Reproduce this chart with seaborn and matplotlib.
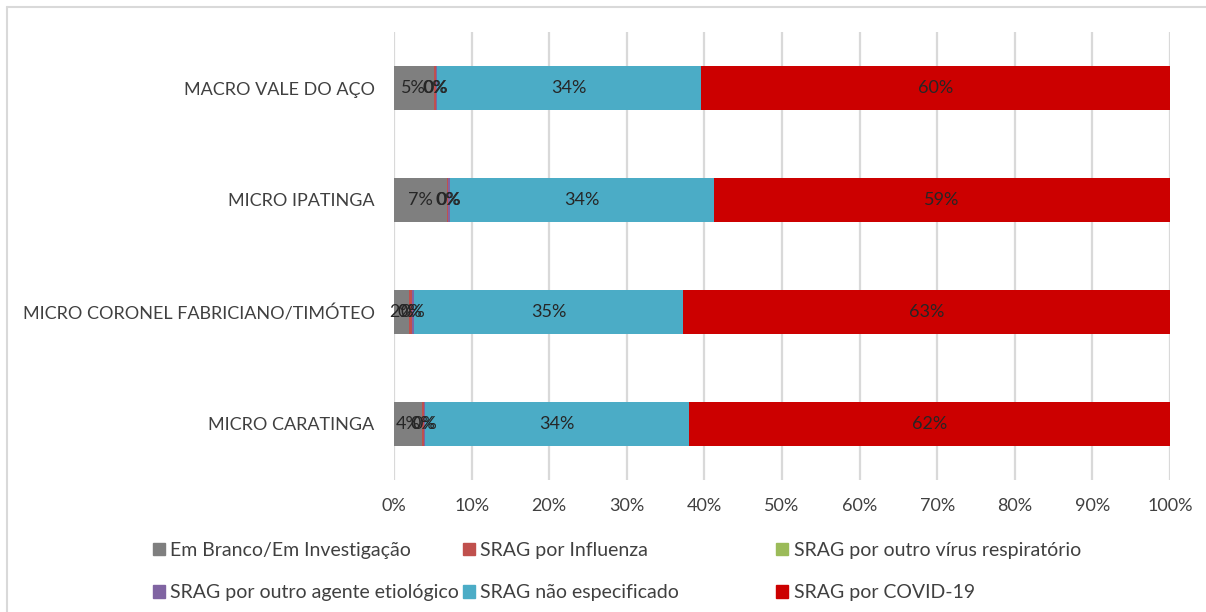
import matplotlib
matplotlib.use("Agg")
import matplotlib.pyplot as plt
import matplotlib.patches as mpatches
from matplotlib.lines import Line2D
import numpy as np
import pandas as pd
import seaborn as sns

categories = ["MACRO VALE DO AÇO", "MICRO IPATINGA",
              "MICRO CORONEL FABRICIANO/TIMÓTEO", "MICRO CARATINGA"]
series_names = ["Em Branco/Em Investigação", "SRAG por Influenza",
                "SRAG por outro vírus respiratório", "SRAG por outro agente etiológico",
                "SRAG não especificado", "SRAG por COVID-19"]
em_branco = [5.1, 6.8, 1.9, 3.6]
influenza = [0.3, 0.2, 0.4, 0.3]
outro_virus = [0.0, 0.0, 0.0, 0.0]
outro_agente = [0.1, 0.2, 0.3, 0.1]
nao_especificado = [34.1, 34.0, 34.6, 34.0]
covid = [60.4, 58.8, 62.8, 62.0]
xtick_labels = ["0%", "10%", "20%", "30%", "40%", "50%", "60%", "70%", "80%", "90%", "100%"]

colors = ["#7F7F7F", "#C0504D", "#9BBB59", "#8064A2", "#4BACC6", "#CC0000"]

sns.set_theme(style="white")
plt.rcParams["font.family"] = ["Lato", "DejaVu Sans"]
text_color = "#404040"

values = np.array([em_branco, influenza, outro_virus, outro_agente, nao_especificado, covid])
cum = np.cumsum(values, axis=0)

fig = plt.figure(figsize=(12.06, 6.12), dpi=100)
ax = fig.add_axes([394 / 1206, 1 - 480 / 612, (1170 - 394) / 1206, (480 - 32) / 612])

# stacked bars: draw cumulative totals from the outermost inward
for i in range(len(series_names) - 1, -1, -1):
    df = pd.DataFrame({"cat": categories, "val": cum[i]})
    sns.barplot(data=df, y="cat", x="val", order=categories, color=colors[i],
                width=0.39, ax=ax, saturation=1, linewidth=0, orient="h")

# data labels
for i in range(len(series_names)):
    for j in range(len(categories)):
        v = values[i, j]
        if v <= 0:
            continue
        start = cum[i, j] - v
        ax.text(start + v / 2, j, f"{round(v):.0f}%", ha="center", va="center",
                fontsize=13, color="#262626")

ax.set_xlim(0, 100)
ax.set_ylim(3.5, -0.5)
ax.set_xticks(np.arange(0, 101, 10))
ax.set_xticklabels(xtick_labels)
ax.set_xlabel("")
ax.set_ylabel("")
ax.xaxis.grid(True, color="#D9D9D9", linewidth=1.6)
ax.yaxis.grid(False)
ax.set_axisbelow(True)
for s in ax.spines.values():
    s.set_visible(False)
ax.tick_params(axis="x", length=0, pad=13, labelsize=13, labelcolor=text_color)
ax.tick_params(axis="y", length=0, pad=14, labelsize=13, labelcolor=text_color)

# legends: three columns placed like the reference
handles = [mpatches.Patch(color=c, label=n) for c, n in zip(colors, series_names)]
col_x = [153, 463, 776]
for k in range(3):
    hs = [handles[k], handles[k + 3]]
    fig.legend(handles=hs, loc="upper left", bbox_to_anchor=(col_x[k] / 1206, 1 - 542 / 612),
               frameon=False, handlelength=0.6, handleheight=0.6, handletextpad=0.3,
               labelspacing=1.3, fontsize=14, labelcolor=text_color, borderaxespad=0,
               borderpad=0)

# chart-area frame (top and left edges visible)
fig.add_artist(Line2D([7 / 1206, 7 / 1206], [0, 1 - 7 / 612], color="#D9D9D9", linewidth=1.5,
                      transform=fig.transFigure))
fig.add_artist(Line2D([7 / 1206, 1], [1 - 7 / 612, 1 - 7 / 612], color="#D9D9D9", linewidth=1.5,
                      transform=fig.transFigure))

fig.savefig("out.png", dpi=100, facecolor="white")
